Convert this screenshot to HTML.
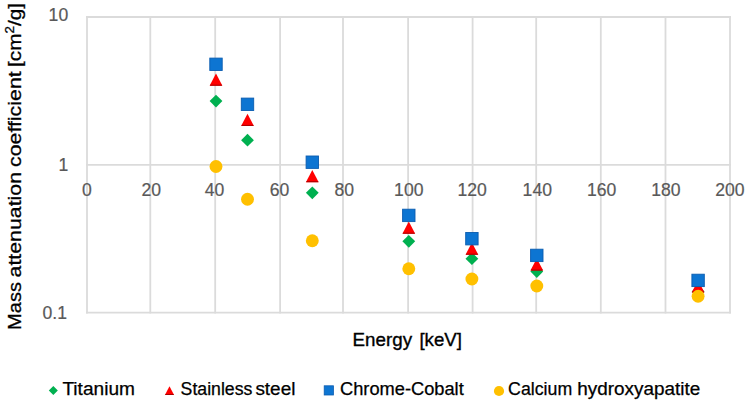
<!DOCTYPE html><html><head><meta charset="utf-8"><style>html,body{margin:0;padding:0;background:#fff;width:749px;height:402px;overflow:hidden}svg{display:block}text{font-family:"Liberation Sans",sans-serif;stroke:currentColor;stroke-width:0.35px}</style></head><body>
<svg width="749" height="402" viewBox="0 0 749 402">
<rect width="749" height="402" fill="#fff"/>
<line x1="87.00" y1="16.0" x2="87.00" y2="313.6" stroke="#dbdbdb" stroke-width="1.8"/>
<line x1="150.30" y1="16.0" x2="150.30" y2="313.6" stroke="#dbdbdb" stroke-width="1.8"/>
<line x1="215.20" y1="16.0" x2="215.20" y2="313.6" stroke="#dbdbdb" stroke-width="1.8"/>
<line x1="280.10" y1="16.0" x2="280.10" y2="313.6" stroke="#dbdbdb" stroke-width="1.8"/>
<line x1="343.00" y1="16.0" x2="343.00" y2="313.6" stroke="#dbdbdb" stroke-width="1.8"/>
<line x1="408.10" y1="16.0" x2="408.10" y2="313.6" stroke="#dbdbdb" stroke-width="1.8"/>
<line x1="472.60" y1="16.0" x2="472.60" y2="313.6" stroke="#dbdbdb" stroke-width="1.8"/>
<line x1="536.20" y1="16.0" x2="536.20" y2="313.6" stroke="#dbdbdb" stroke-width="1.8"/>
<line x1="600.80" y1="16.0" x2="600.80" y2="313.6" stroke="#dbdbdb" stroke-width="1.8"/>
<line x1="665.50" y1="16.0" x2="665.50" y2="313.6" stroke="#dbdbdb" stroke-width="1.8"/>
<line x1="730.00" y1="16.0" x2="730.00" y2="313.6" stroke="#dbdbdb" stroke-width="1.8"/>
<line x1="86.0" y1="17.0" x2="731.0" y2="17.0" stroke="#dbdbdb" stroke-width="1.8"/>
<line x1="86.0" y1="164.9" x2="731.0" y2="164.9" stroke="#dbdbdb" stroke-width="1.8"/>
<line x1="86.0" y1="312.6" x2="731.0" y2="312.6" stroke="#dbdbdb" stroke-width="1.8"/>
<text x="68.2" y="20.95" font-size="17.6" fill="#595959" color="#595959" style="stroke-width:0.2px" text-anchor="end">10</text>
<text x="68.2" y="170.80" font-size="17.6" fill="#595959" color="#595959" style="stroke-width:0.2px" text-anchor="end">1</text>
<text x="67.0" y="318.60" font-size="17.6" fill="#595959" color="#595959" style="stroke-width:0.2px" text-anchor="end">0.1</text>
<text x="86.80" y="195.6" font-size="17.6" fill="#595959" color="#595959" style="stroke-width:0.2px" text-anchor="middle">0</text>
<text x="151.20" y="195.6" font-size="17.6" fill="#595959" color="#595959" style="stroke-width:0.2px" text-anchor="middle">20</text>
<text x="214.60" y="195.6" font-size="17.6" fill="#595959" color="#595959" style="stroke-width:0.2px" text-anchor="middle">40</text>
<text x="279.50" y="195.6" font-size="17.6" fill="#595959" color="#595959" style="stroke-width:0.2px" text-anchor="middle">60</text>
<text x="344.30" y="195.6" font-size="17.6" fill="#595959" color="#595959" style="stroke-width:0.2px" text-anchor="middle">80</text>
<text x="408.80" y="195.6" font-size="17.6" fill="#595959" color="#595959" style="stroke-width:0.2px" text-anchor="middle">100</text>
<text x="472.20" y="195.6" font-size="17.6" fill="#595959" color="#595959" style="stroke-width:0.2px" text-anchor="middle">120</text>
<text x="537.30" y="195.6" font-size="17.6" fill="#595959" color="#595959" style="stroke-width:0.2px" text-anchor="middle">140</text>
<text x="601.70" y="195.6" font-size="17.6" fill="#595959" color="#595959" style="stroke-width:0.2px" text-anchor="middle">160</text>
<text x="665.90" y="195.6" font-size="17.6" fill="#595959" color="#595959" style="stroke-width:0.2px" text-anchor="middle">180</text>
<text x="729.90" y="195.6" font-size="17.6" fill="#595959" color="#595959" style="stroke-width:0.2px" text-anchor="middle">200</text>
<polygon points="216.00,94.70 222.40,101.10 216.00,107.50 209.60,101.10" fill="#00b050"/>
<polygon points="247.50,133.80 253.90,140.20 247.50,146.60 241.10,140.20" fill="#00b050"/>
<polygon points="312.30,186.40 318.70,192.80 312.30,199.20 305.90,192.80" fill="#00b050"/>
<polygon points="408.80,234.90 415.20,241.30 408.80,247.70 402.40,241.30" fill="#00b050"/>
<polygon points="471.90,252.30 478.30,258.70 471.90,265.10 465.50,258.70" fill="#00b050"/>
<polygon points="536.80,265.10 543.20,271.50 536.80,277.90 530.40,271.50" fill="#00b050"/>
<polygon points="698.10,285.10 704.50,291.50 698.10,297.90 691.70,291.50" fill="#00b050"/>
<polygon points="216.00,73.50 222.40,85.70 209.60,85.70" fill="#ff0000"/>
<line x1="210.10" y1="85.20" x2="221.90" y2="85.20" stroke="#a80000" stroke-width="1"/>
<polygon points="247.50,113.70 253.90,125.90 241.10,125.90" fill="#ff0000"/>
<line x1="241.60" y1="125.40" x2="253.40" y2="125.40" stroke="#a80000" stroke-width="1"/>
<polygon points="312.30,170.00 318.70,182.20 305.90,182.20" fill="#ff0000"/>
<line x1="306.40" y1="181.70" x2="318.20" y2="181.70" stroke="#a80000" stroke-width="1"/>
<polygon points="408.80,221.50 415.20,233.70 402.40,233.70" fill="#ff0000"/>
<line x1="402.90" y1="233.20" x2="414.70" y2="233.20" stroke="#a80000" stroke-width="1"/>
<polygon points="471.90,242.50 478.30,254.70 465.50,254.70" fill="#ff0000"/>
<line x1="466.00" y1="254.20" x2="477.80" y2="254.20" stroke="#a80000" stroke-width="1"/>
<polygon points="536.80,258.40 543.20,270.60 530.40,270.60" fill="#ff0000"/>
<line x1="530.90" y1="270.10" x2="542.70" y2="270.10" stroke="#a80000" stroke-width="1"/>
<polygon points="698.10,280.30 704.50,292.50 691.70,292.50" fill="#ff0000"/>
<line x1="692.20" y1="292.00" x2="704.00" y2="292.00" stroke="#a80000" stroke-width="1"/>
<rect x="209.80" y="58.10" width="12.4" height="12.4" fill="#0d75d2" stroke="#0a5cb0" stroke-width="0.9"/>
<rect x="241.30" y="98.10" width="12.4" height="12.4" fill="#0d75d2" stroke="#0a5cb0" stroke-width="0.9"/>
<rect x="306.10" y="156.00" width="12.4" height="12.4" fill="#0d75d2" stroke="#0a5cb0" stroke-width="0.9"/>
<rect x="402.60" y="209.20" width="12.4" height="12.4" fill="#0d75d2" stroke="#0a5cb0" stroke-width="0.9"/>
<rect x="465.70" y="232.50" width="12.4" height="12.4" fill="#0d75d2" stroke="#0a5cb0" stroke-width="0.9"/>
<rect x="530.60" y="249.20" width="12.4" height="12.4" fill="#0d75d2" stroke="#0a5cb0" stroke-width="0.9"/>
<rect x="691.90" y="274.20" width="12.4" height="12.4" fill="#0d75d2" stroke="#0a5cb0" stroke-width="0.9"/>
<circle cx="216.00" cy="166.50" r="6.45" fill="#ffc000"/>
<circle cx="247.50" cy="199.20" r="6.45" fill="#ffc000"/>
<circle cx="312.30" cy="240.80" r="6.45" fill="#ffc000"/>
<circle cx="408.80" cy="268.80" r="6.45" fill="#ffc000"/>
<circle cx="471.90" cy="279.00" r="6.45" fill="#ffc000"/>
<circle cx="536.80" cy="286.00" r="6.45" fill="#ffc000"/>
<circle cx="698.10" cy="296.20" r="6.45" fill="#ffc000"/>
<text x="352.60" y="345.70" font-size="19" fill="#000" color="#000" style="stroke-width:0.35px" textLength="59.50" lengthAdjust="spacingAndGlyphs" >Energy</text>
<text x="419.40" y="345.70" font-size="19" fill="#000" color="#000" style="stroke-width:0.35px" textLength="42.50" lengthAdjust="spacingAndGlyphs" >[keV]</text>
<text transform="translate(21.30,329.90) rotate(-90)" x="0" y="0" font-size="18.7" fill="#000" color="#000" style="stroke-width:0.28px" textLength="47.80" lengthAdjust="spacingAndGlyphs" >Mass</text>
<text transform="translate(21.30,277.40) rotate(-90)" x="0" y="0" font-size="18.7" fill="#000" color="#000" style="stroke-width:0.28px" textLength="105.40" lengthAdjust="spacingAndGlyphs" >attenuation</text>
<text transform="translate(21.30,167.00) rotate(-90)" x="0" y="0" font-size="18.7" fill="#000" color="#000" style="stroke-width:0.28px" textLength="95.70" lengthAdjust="spacingAndGlyphs" >coefficient</text>
<text transform="translate(21.30,67.00) rotate(-90)" x="0" y="0" font-size="18.7" fill="#000" color="#000" style="stroke-width:0.28px" textLength="64.00" lengthAdjust="spacingAndGlyphs" >[cm<tspan font-size="12" dy="-7">2</tspan><tspan dy="7">/g]</tspan></text>
<polygon points="53.30,385.90 57.80,390.40 53.30,394.90 48.80,390.40" fill="#00b050"/>
<text x="62.40" y="395.00" font-size="17.5" fill="#000" color="#000" style="stroke-width:0.25px" textLength="72.60" lengthAdjust="spacingAndGlyphs" >Titanium</text>
<polygon points="169.50,386.20 174.10,395.00 164.90,395.00" fill="#ff0000"/>
<line x1="165.40" y1="394.50" x2="173.60" y2="394.50" stroke="#a80000" stroke-width="1"/>
<text x="180.60" y="395.00" font-size="17.5" fill="#000" color="#000" style="stroke-width:0.25px" textLength="71.80" lengthAdjust="spacingAndGlyphs" >Stainless</text>
<text x="255.40" y="395.00" font-size="17.5" fill="#000" color="#000" style="stroke-width:0.25px" textLength="40.00" lengthAdjust="spacingAndGlyphs" >steel</text>
<rect x="324.2" y="385.8" width="9.2" height="9.2" fill="#0d75d2" stroke="#0a5cb0" stroke-width="0.8"/>
<text x="340.00" y="395.00" font-size="17.5" fill="#000" color="#000" style="stroke-width:0.25px" textLength="123.70" lengthAdjust="spacingAndGlyphs" >Chrome-Cobalt</text>
<circle cx="499.0" cy="391.0" r="5.1" fill="#ffc000"/>
<text x="508.10" y="395.00" font-size="17.5" fill="#000" color="#000" style="stroke-width:0.25px" textLength="64.10" lengthAdjust="spacingAndGlyphs" >Calcium</text>
<text x="577.30" y="395.00" font-size="17.5" fill="#000" color="#000" style="stroke-width:0.25px" textLength="122.90" lengthAdjust="spacingAndGlyphs" >hydroxyapatite</text>
</svg></body></html>
